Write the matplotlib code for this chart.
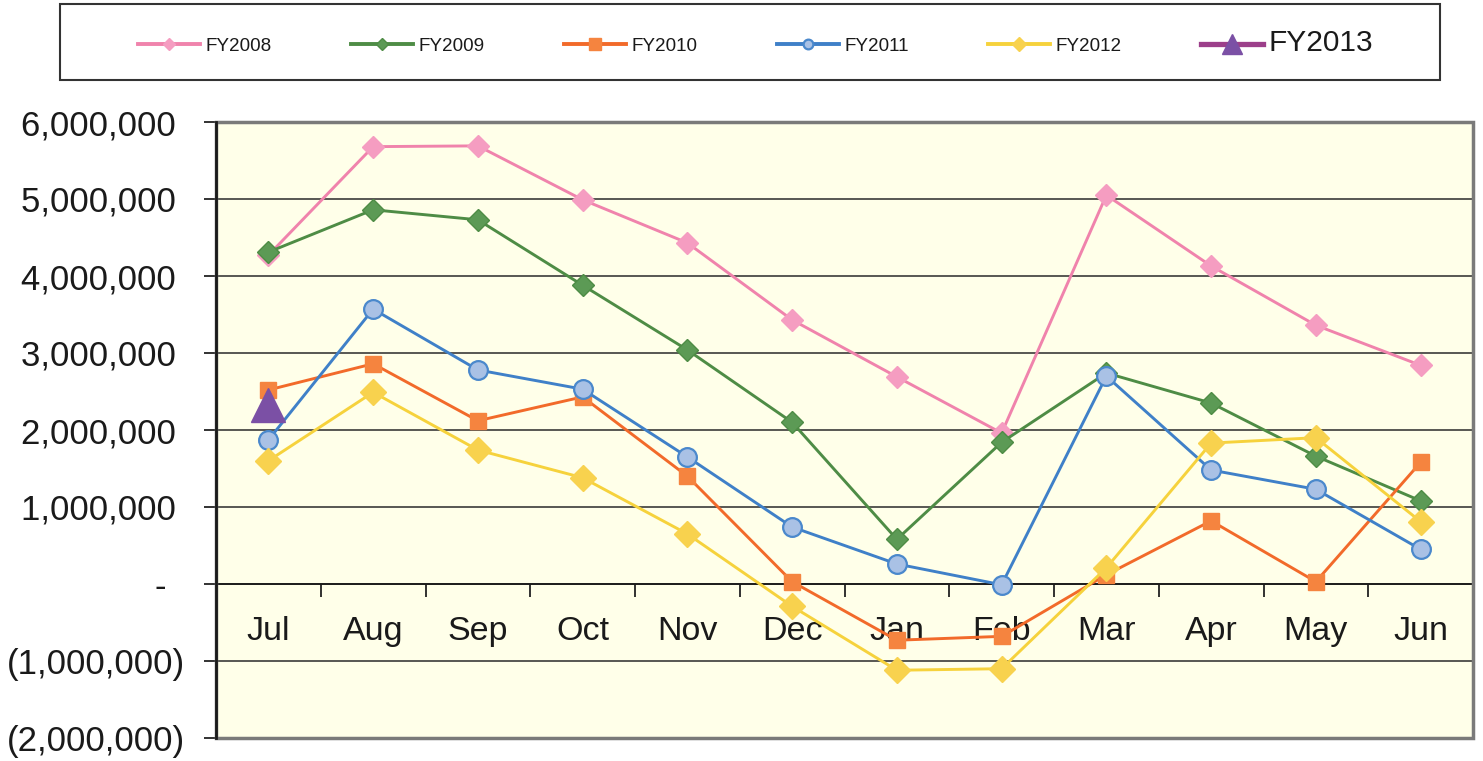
import matplotlib
matplotlib.use("Agg")
import matplotlib.pyplot as plt
from matplotlib.patches import Rectangle
from matplotlib.ticker import FixedLocator, FuncFormatter
import numpy as np

plt.rcParams['font.family'] = ['Liberation Sans', 'DejaVu Sans']

months = ["Jul", "Aug", "Sep", "Oct", "Nov", "Dec", "Jan", "Feb", "Mar", "Apr", "May", "Jun"]

fy2008 = [4270000, 5680000, 5690000, 4990000, 4430000, 3430000, 2690000, 1960000, 5050000, 4130000, 3360000, 2840000]
fy2009 = [4310000, 4860000, 4730000, 3880000, 3040000, 2100000, 580000, 1840000, 2740000, 2350000, 1660000, 1080000]
fy2010 = [2520000, 2860000, 2120000, 2430000, 1400000, 30000, -730000, -680000, 120000, 820000, 30000, 1580000]
fy2011 = [1870000, 3570000, 2780000, 2530000, 1650000, 740000, 260000, -10000, 2700000, 1480000, 1230000, 450000]
fy2012 = [1600000, 2490000, 1740000, 1380000, 650000, -290000, -1120000, -1100000, 210000, 1830000, 1900000, 810000]
fy2013 = [2320000]

W, H = 1483, 761
fig = plt.figure(figsize=(W / 100, H / 100), dpi=100)
fig.patch.set_facecolor("white")

L, R, T, B = 216, 1473, 122, 738
ax = fig.add_axes([L / W, (H - B) / H, (R - L) / W, (B - T) / H])
ax.set_facecolor("#FFFFE9")

x = np.arange(len(months))

series = [
    ("FY2008", fy2008, dict(color="#F083AC", marker="D", ms=11, mfc="#F59DC1", mec="#F59DC1", lw=2.1, zorder=3)),
    ("FY2009", fy2009, dict(color="#4E8C45", marker="D", ms=11, mfc="#5C9A55", mec="#4E8C45", lw=2.1, zorder=4)),
    ("FY2010", fy2010, dict(color="#F26A2A", marker="s", ms=12, mfc="#F5843F", mec="#F5843F", lw=2.1, zorder=5)),
    ("FY2011", fy2011, dict(color="#3F80C8", marker="o", ms=13.5, mfc="#A9C1E5", mec="#4A88CC", mew=1.6, lw=2.1, zorder=6)),
    ("FY2012", fy2012, dict(color="#F6D23C", marker="D", ms=13, mfc="#F8D24E", mec="#F8D24E", lw=2.1, zorder=7)),
]
for name, vals, kw in series:
    ax.plot(x, vals, label=name, **kw)
ax.plot(x[:len(fy2013)], fy2013, label="FY2013", color="#9C3F8A", marker="^", ms=24,
        mfc="#7B50A5", mec="#7B50A5", lw=3.0, zorder=8)

ax.set_xlim(-0.5, 11.5)
ax.set_ylim(-2000000, 6000000)

yticks = np.arange(-2000000, 6000001, 1000000)
ax.yaxis.set_major_locator(FixedLocator(yticks))


def yfmt(v, pos):
    v = int(round(v))
    if v == 0:
        return "-  "
    if v < 0:
        return "({:,})".format(-v)
    return "{:,} ".format(v)


ax.yaxis.set_major_formatter(FuncFormatter(yfmt))
ax.yaxis.grid(True, color="#2A2A2A", lw=1.1)
ax.set_axisbelow(True)

ax.set_xticks(x)
ax.set_xticklabels(months)
ax.set_xticks(np.arange(0.5, 11, 1.0), minor=True)
ax.tick_params(axis="x", which="major", length=0, pad=23, labelsize=24.5, labelcolor="#1A1A1A")
ax.tick_params(axis="x", which="minor", length=9, width=1.3, direction="out", color="#222")
ax.tick_params(axis="y", which="major", length=9, width=1.3, direction="out", pad=13,
               labelsize=25, labelcolor="#1A1A1A", color="#222")

ax.spines["bottom"].set_position(("data", 0))
ax.spines["bottom"].set_color("#1A1A1A")
ax.spines["bottom"].set_linewidth(1.3)
ax.spines["left"].set_color("#1A1A1A")
ax.spines["left"].set_linewidth(2.0)
ax.spines["left"].set_zorder(10)
ax.spines["top"].set_visible(False)
ax.spines["right"].set_visible(False)
ax.add_patch(Rectangle((0, 0), 1, 1, transform=ax.transAxes, fill=False,
                       edgecolor="#7A7A7A", lw=2.5, clip_on=False, zorder=9))

# legend box
fig.patches.append(Rectangle((60 / W, 1 - 80 / H), (1440 - 60) / W, (80 - 4) / H,
                             transform=fig.transFigure, fill=False, edgecolor="#333333",
                             lw=1.5, zorder=0))
leg = fig.legend(loc="center left", bbox_to_anchor=(138 / W, 1 - 43 / H), ncol=6,
                 frameon=False, fontsize=13.6, handlelength=3.3, handletextpad=0.27,
                 columnspacing=4.2, borderpad=0, borderaxespad=0)
leg_ms = [6.5, 6.5, 8, 7, 7, 15]
leg_lw = [2.8, 2.8, 2.8, 2.8, 2.8, 3.8]
for h, ms, lw in zip(leg.legend_handles, leg_ms, leg_lw):
    h.set_markersize(ms)
    h.set_linewidth(lw)
leg.get_texts()[5].set_fontsize(21.5)
for t in leg.get_texts():
    t.set_color("#1A1A1A")

fig.savefig("out.png", dpi=100)
